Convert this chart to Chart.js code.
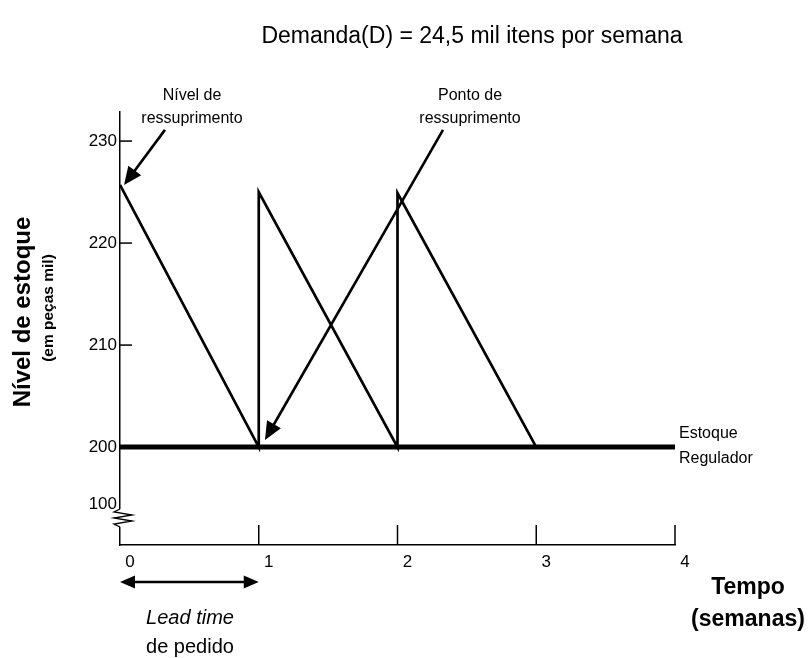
<!DOCTYPE html>
<html>
<head>
<meta charset="utf-8">
<script src="https://cdn.jsdelivr.net/npm/chart.js@4.4.1/dist/chart.umd.min.js"></script>
<style>
    body { margin: 0; background: #fff; }
</style>
</head>
<body>
<canvas id="myChart" width="808" height="658"></canvas>
<script>
// sawtooth: stock level over the weeks
const weeks = [0, 1, 1, 2, 2, 3];
const stock = [225.7, 200, 225, 200, 224.9, 200];
// buffer stock (Estoque Regulador)
const bufferWeeks = [0, 4];
const bufferStock = [200, 200];
// axis ticks
const xTicks = [0, 1, 2, 3, 4];
const yTicks = [200, 210, 220, 230];
// broken axis: "100" is shown just below 200
const yBreakLabel = '100';
const yBreakValue = 194.4;

const FONT = '"Liberation Sans", Arial, sans-serif';

function toPoints(xs, ys) {
    return xs.map((x, i) => ({ x: x, y: ys[i] }));
}

function arrowHead(ctx, x1, y1, x2, y2, len, half) {
    const a = Math.atan2(y2 - y1, x2 - x1);
    ctx.beginPath();
    ctx.moveTo(x2, y2);
    ctx.lineTo(x2 - len * Math.cos(a) + half * Math.sin(a), y2 - len * Math.sin(a) - half * Math.cos(a));
    ctx.lineTo(x2 - len * Math.cos(a) - half * Math.sin(a), y2 - len * Math.sin(a) + half * Math.cos(a));
    ctx.closePath();
    ctx.fill();
}

function arrow(ctx, x1, y1, x2, y2) {
    const a = Math.atan2(y2 - y1, x2 - x1);
    ctx.beginPath();
    ctx.moveTo(x1, y1);
    ctx.lineTo(x2 - 10 * Math.cos(a), y2 - 10 * Math.sin(a));
    ctx.stroke();
    arrowHead(ctx, x1, y1, x2, y2, 18, 8);
}

// annotation arrows, in data units (week, stock)
const notes = [
    { from: [0.324, 231.1], to: [0.029, 225.7] },
    { from: [2.328, 231.1], to: [1.045, 200.7] }
];

const decorPlugin = {
    id: 'decor',
    afterDraw(chart) {
        const ctx = chart.ctx;
        const xs = chart.scales.x;
        const ys = chart.scales.y;
        ctx.save();
        ctx.strokeStyle = '#000';
        ctx.fillStyle = '#000';

        // inward tick marks
        ctx.lineWidth = 1.5;
        yTicks.forEach(v => {
            const py = ys.getPixelForValue(v);
            ctx.beginPath();
            ctx.moveTo(xs.left, py);
            ctx.lineTo(xs.left + 12, py);
            ctx.stroke();
        });
        xTicks.slice(1).forEach(v => {
            const px = xs.getPixelForValue(v);
            ctx.beginPath();
            ctx.moveTo(px, ys.bottom);
            ctx.lineTo(px, ys.bottom - 20);
            ctx.stroke();
        });

        // axis break zigzag
        const bx = xs.left;
        const by = ys.bottom - 36;
        ctx.fillStyle = '#fff';
        ctx.fillRect(bx - 2, by, 4, 18);
        ctx.fillStyle = '#000';
        ctx.lineWidth = 1.3;
        ctx.beginPath();
        ctx.moveTo(bx, by);
        ctx.lineTo(bx - 6, by + 3);
        ctx.lineTo(bx + 12, by + 6);
        ctx.lineTo(bx - 6, by + 9);
        ctx.lineTo(bx + 12, by + 12);
        ctx.lineTo(bx - 6, by + 15);
        ctx.lineTo(bx, by + 18);
        ctx.stroke();

        // annotation arrows
        ctx.lineWidth = 2.6;
        notes.forEach(n => {
            arrow(ctx, xs.getPixelForValue(n.from[0]), ys.getPixelForValue(n.from[1]),
                  xs.getPixelForValue(n.to[0]), ys.getPixelForValue(n.to[1]));
        });

        // lead time double arrow (week 0 to week 1)
        const lx0 = xs.getPixelForValue(0);
        const lx1 = xs.getPixelForValue(1);
        const ly = ys.bottom + 37;
        ctx.lineWidth = 2.6;
        ctx.beginPath();
        ctx.moveTo(lx0 + 10, ly);
        ctx.lineTo(lx1 - 10, ly);
        ctx.stroke();
        arrowHead(ctx, lx1, ly, lx0, ly, 15, 6.5);
        arrowHead(ctx, lx0, ly, lx1, ly, 15, 6.5);

        // texts
        ctx.textAlign = 'center';
        ctx.textBaseline = 'middle';
        ctx.font = '23px ' + FONT;
        ctx.fillText('Demanda(D) = 24,5 mil itens por semana', 472, 37);

        ctx.font = '16px ' + FONT;
        ctx.fillText('Nível de', 192, 96);
        ctx.fillText('ressuprimento', 192, 119);
        ctx.fillText('Ponto de', 470, 96);
        ctx.fillText('ressuprimento', 470, 119);

        ctx.font = 'italic 20px ' + FONT;
        ctx.fillText('Lead time', 190, 618);
        ctx.font = '20px ' + FONT;
        ctx.fillText('de pedido', 190, 647);

        ctx.font = 'bold 23px ' + FONT;
        ctx.fillText('Tempo', 748, 588);
        ctx.fillText('(semanas)', 748, 620);

        ctx.textAlign = 'left';
        ctx.font = '16px ' + FONT;
        ctx.fillText('Estoque', 679, 434);
        ctx.fillText('Regulador', 679, 459);

        // y axis title
        ctx.save();
        ctx.translate(23, 312);
        ctx.rotate(-Math.PI / 2);
        ctx.textAlign = 'center';
        ctx.font = 'bold 24px ' + FONT;
        ctx.fillText('Nível de estoque', 0, 0);
        ctx.restore();
        ctx.save();
        ctx.translate(49, 308);
        ctx.rotate(-Math.PI / 2);
        ctx.textAlign = 'center';
        ctx.font = 'bold 15.5px ' + FONT;
        ctx.fillText('(em peças mil)', 0, 0);
        ctx.restore();

        ctx.restore();
    }
};

new Chart(document.getElementById('myChart'), {
    type: 'scatter',
    data: {
        datasets: [{
            data: toPoints(weeks, stock),
            showLine: true,
            borderColor: '#000',
            borderWidth: 2.7,
            pointRadius: 0,
            tension: 0
        }, {
            data: toPoints(bufferWeeks, bufferStock),
            showLine: true,
            borderColor: '#000',
            borderWidth: 5,
            borderCapStyle: 'butt',
            pointRadius: 0
        }]
    },
    options: {
        responsive: false,
        devicePixelRatio: 1,
        animation: false,
        layout: {
            padding: { left: 0, right: 133, top: 112, bottom: 0 }
        },
        plugins: {
            legend: { display: false },
            tooltip: { enabled: false }
        },
        scales: {
            x: {
                type: 'linear',
                min: 0,
                max: 4,
                afterFit: s => { s.height = 113; },
                afterBuildTicks: s => { s.ticks = xTicks.map(v => ({ value: v })); },
                ticks: {
                    autoSkip: false,
                    maxRotation: 0,
                    labelOffset: 10,
                    padding: 7,
                    color: '#000',
                    font: { family: FONT, size: 17 }
                },
                grid: { drawOnChartArea: false, drawTicks: false },
                border: { color: '#000', width: 1.5 }
            },
            y: {
                type: 'linear',
                min: 190.4,
                max: 232.85,
                afterFit: s => { s.width = 120; },
                afterBuildTicks: s => {
                    s.ticks = [yBreakValue].concat(yTicks).map(v => ({ value: v }));
                },
                ticks: {
                    padding: 3,
                    color: '#000',
                    font: { family: FONT, size: 17 },
                    callback: v => (v === yBreakValue ? yBreakLabel : v)
                },
                grid: { drawOnChartArea: false, drawTicks: false },
                border: { color: '#000', width: 1.5 }
            }
        }
    },
    plugins: [decorPlugin]
});
</script>
</body>
</html>
